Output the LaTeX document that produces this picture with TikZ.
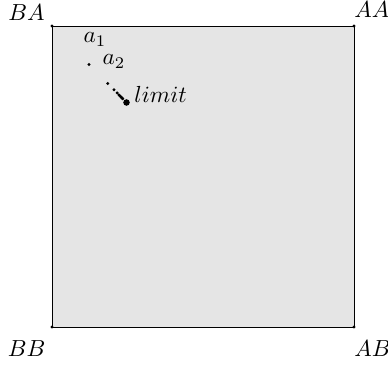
\documentclass[tikz,border=0pt]{standalone}
\begin{document}
\begin{tikzpicture}[x=0.43pt,y=-0.43pt,
  cornerdot/.style={circle,fill=black,inner sep=0pt,minimum size=1.4pt},
  seqdot/.style={circle,fill=black,inner sep=0pt,minimum size=1.4pt},
  limdot/.style={circle,fill=black,inner sep=0pt,minimum size=2.8pt},
  lbl/.style={inner sep=0pt}]
\useasboundingbox (0,0) rectangle (388,364);
\coordinate (BAc) at (52,26);
\coordinate (AAc) at (354,26);
\coordinate (ABc) at (354,327);
\coordinate (BBc) at (52,327);
\fill[black!10] (BAc) rectangle (ABc);
\draw[line width=0.35pt] (BAc) -- (AAc) -- (ABc) -- (BBc) -- cycle;
\node[cornerdot] (BA) at (BAc) {};
\node[cornerdot] (AA) at (AAc) {};
\node[cornerdot] (AB) at (ABc) {};
\node[cornerdot] (BB) at (BBc) {};
\node[lbl,anchor=base east] (tBA) at (45,21) {$BA$};
\node[lbl,anchor=base west] (tAA) at (354,18) {$AA$};
\node[lbl,anchor=base east] (tBB) at (46,356) {$BB$};
\node[lbl,anchor=base west] (tAB) at (354,356) {$AB$};
% sequence a_n = L - d/n
\foreach \n in {1,...,10}{
  \node[seqdot] (s\n) at ({126.5-37.5/\n},{102.5-38/\n}) {};
}
\node[limdot] (L) at (126.5,102.5) {};
\node[lbl,anchor=base] (ta1) at (95,43) {$a_1$};
\node[lbl,anchor=base] (ta2) at (114,65) {$a_2$};
\node[lbl,anchor=base west] (tL) at (134,103) {$limit$};
\end{tikzpicture}
\end{document}
